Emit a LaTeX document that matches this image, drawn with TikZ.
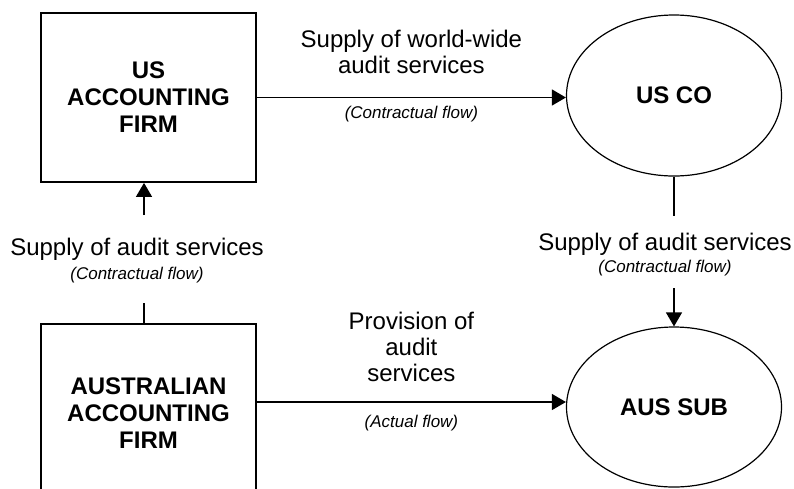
\documentclass[tikz,border=0pt]{standalone}
\usepackage{fontspec}
\setmainfont{Liberation Sans}
\usetikzlibrary{arrows.meta,shapes.geometric}

\begin{document}
\begin{tikzpicture}[x=1pt,y=-1pt] \tikzset{% styles for the firms, companies and flows
        firm/.style={draw, line width=1.8pt, minimum width=215pt, minimum height=169pt, align=center,
        font=\bfseries\fontsize{24}{27}\selectfont},
        co/.style={draw, ellipse, line width=1.2pt, minimum width=215pt, minimum height=161pt,
        font=\bfseries\fontsize{24}{27}\selectfont},
        flow/.style={line width=1.3pt, -{Triangle[length=14pt,width=16pt]}},
        plainline/.style={line width=1.3pt},
        lbl/.style={align=center, font=\fontsize{24}{26}\selectfont},
        note/.style={font=\itshape\fontsize{17}{20}\selectfont},
        }
        \useasboundingbox (0,0) rectangle (794,488); \clip (0,0) rectangle (794,488);
        % Nodes
        \node[firm] (usfirm) at (148.5,97.5) {US\\ACCOUNTING\\FIRM};
        \node[co] (usco) at (674,95.5) {US CO};
        \node[firm, minimum height=178pt] (ausfirm) at (148.5,413) {AUSTRALIAN\\ACCOUNTING\\FIRM};
        \node[co, minimum height=160pt] (aussub) at (674,407) {AUS SUB};
        % side labels
        \node[lbl] (sideA) at (137,249) {Supply of audit services};
        \node[note] (sideAnote) at (137,275) {(Contractual flow)};
        \node[lbl] (sideB) at (665,244) {Supply of audit services};
        \node[note] (sideBnote) at (665,268) {(Contractual flow)};
        \coordinate (a1) at (144,215); \coordinate (a2) at (144,303);
        \coordinate (b1) at (674,216); \coordinate (b2) at (674,288);
        %Edges
        \draw[flow] (usfirm.east) -- (usfirm.east -| usco.west)
        node[lbl, midway, yshift=46pt] {Supply of world-wide\\audit services}
        node[note, midway, yshift=-17pt] {(Contractual flow)};
        \draw[flow] ([yshift=11pt]ausfirm.east) -- ([yshift=11pt]ausfirm.east -| aussub.west)
        node[lbl, midway, yshift=55pt] {Provision of\\audit\\services}
        node[note, midway, yshift=-21pt] {(Actual flow)};
        \draw[flow] (a1) -- (a1 |- usfirm.south); \draw[plainline] (a2) -- (a2 |- ausfirm.north);
        \draw[plainline] (b1 |- usco.south) -- (b1); \draw[flow] (b2) -- (b2 |- aussub.north);
\end{tikzpicture}
\end{document}
